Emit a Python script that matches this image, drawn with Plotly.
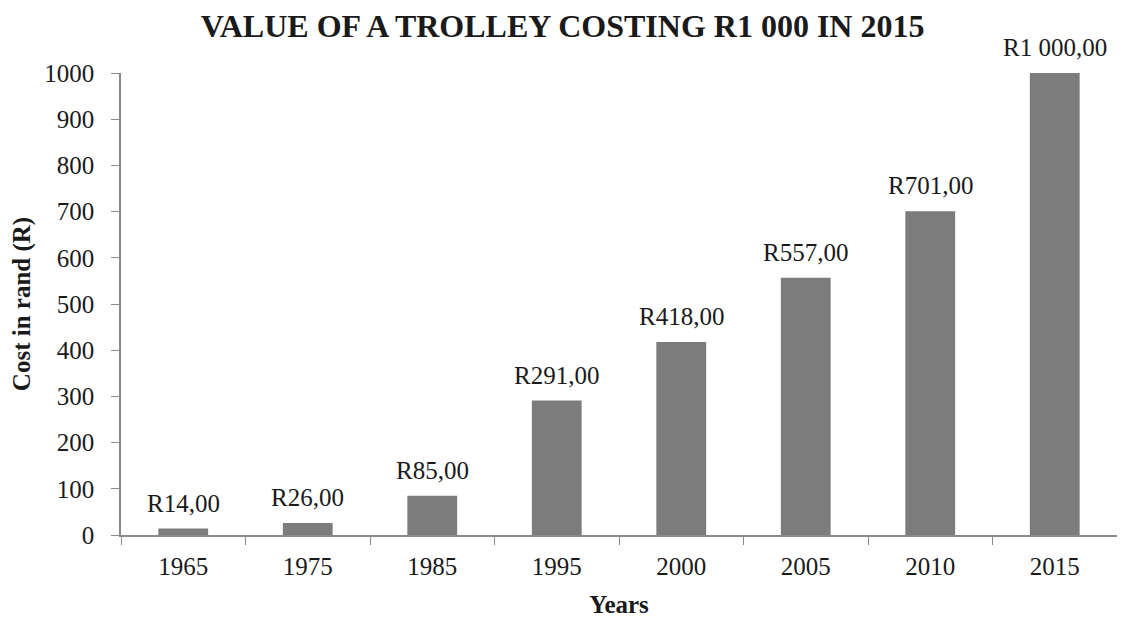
import plotly.graph_objects as go

years = ["1965", "1975", "1985", "1995", "2000", "2005", "2010", "2015"]
costs = [14, 26, 85, 291, 418, 557, 701, 1000]
labels = ["R14,00", "R26,00", "R85,00", "R291,00", "R418,00", "R557,00", "R701,00", "R1 000,00"]
yticks = [0, 100, 200, 300, 400, 500, 600, 700, 800, 900, 1000]

serif = "Liberation Serif, Times New Roman, serif"
txt = "#1a1a1a"

fig = go.Figure(go.Bar(
    x=years, y=costs,
    marker=dict(color="#7c7c7c", line=dict(width=0)),
    cliponaxis=False,
))

# category axis: annotation x uses the category's serial position
for i, (c, lab) in enumerate(zip(costs, labels)):
    fig.add_annotation(x=i, y=c, text=lab, showarrow=False,
                       xanchor="center", yanchor="bottom", yshift=10,
                       font=dict(family=serif, size=25, color=txt))

fig.update_layout(
    width=1125, height=620,
    margin=dict(l=113, r=16, t=65, b=93, autoexpand=False),
    paper_bgcolor="white", plot_bgcolor="white",
    bargap=0.6,
    showlegend=False,
    title=dict(text="<b>VALUE OF A TROLLEY COSTING R1 000 IN 2015</b>",
               x=0.493, xanchor="center", y=0.99, yanchor="top",
               font=dict(family=serif, size=32, color=txt)),
    font=dict(family=serif, size=25, color=txt),
)

fig.update_xaxes(
    type="category",
    automargin=False,
    showline=True, linecolor="#8a8a8a", linewidth=1.5,
    ticks="outside", ticklen=8, tickcolor="#8a8a8a", tickson="boundaries",
    showgrid=False,
    tickfont=dict(family=serif, size=25, color=txt),
    tickangle=0,
    ticklabelstandoff=8,
    title=dict(text="<b>Years</b>", font=dict(family=serif, size=25, color=txt), standoff=17),
)
fig.update_yaxes(
    automargin=False,
    range=[0, 1000], tickvals=yticks,
    showline=True, linecolor="#8a8a8a", linewidth=1.5,
    ticks="outside", ticklen=8, tickcolor="#8a8a8a",
    showgrid=False, zeroline=False,
    tickfont=dict(family=serif, size=25, color=txt),
    ticklabelstandoff=12,
    title=dict(text="<b>Cost in rand (R)</b>", font=dict(family=serif, size=25, color=txt), standoff=14),
)

fig.write_html("out.html")
